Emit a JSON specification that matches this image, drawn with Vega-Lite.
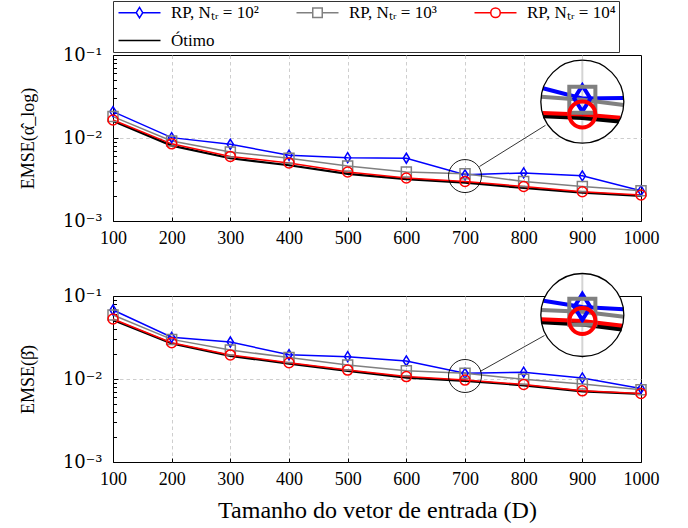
{
  "$schema": "https://vega.github.io/schema/vega-lite/v6.json",
  "background": "white",
  "padding": {"left": 18, "top": 0, "right": 5, "bottom": 4},
  "autosize": {"type": "pad"},
  "bounds": "flush",
  "spacing": 75,
  "config": {
    "view": {"stroke": "#000", "strokeWidth": 1},
    "font": "Liberation Serif",
    "axis": {
      "labelFont": "Liberation Serif", "titleFont": "Liberation Serif",
      "labelColor": "#000", "titleColor": "#000", "tickColor": "#000",
      "domain": false, "titleFontWeight": "normal",
      "gridColor": "#c8c8c8", "gridDash": [3.5, 3], "gridWidth": 0.9
    }
  },
  "datasets": {
    "alpha": [
      {"D": 100, "series": "RP, Nₜᵣ = 10²", "emse": 0.0208},
      {"D": 200, "series": "RP, Nₜᵣ = 10²", "emse": 0.0101},
      {"D": 300, "series": "RP, Nₜᵣ = 10²", "emse": 0.0084},
      {"D": 400, "series": "RP, Nₜᵣ = 10²", "emse": 0.0062},
      {"D": 500, "series": "RP, Nₜᵣ = 10²", "emse": 0.0058},
      {"D": 600, "series": "RP, Nₜᵣ = 10²", "emse": 0.0057},
      {"D": 700, "series": "RP, Nₜᵣ = 10²", "emse": 0.0036},
      {"D": 800, "series": "RP, Nₜᵣ = 10²", "emse": 0.0038},
      {"D": 900, "series": "RP, Nₜᵣ = 10²", "emse": 0.0035},
      {"D": 1000, "series": "RP, Nₜᵣ = 10²", "emse": 0.00232},
      {"D": 100, "series": "RP, Nₜᵣ = 10³", "emse": 0.0181},
      {"D": 200, "series": "RP, Nₜᵣ = 10³", "emse": 0.0092},
      {"D": 300, "series": "RP, Nₜᵣ = 10³", "emse": 0.0068},
      {"D": 400, "series": "RP, Nₜᵣ = 10³", "emse": 0.0057},
      {"D": 500, "series": "RP, Nₜᵣ = 10³", "emse": 0.0046},
      {"D": 600, "series": "RP, Nₜᵣ = 10³", "emse": 0.0039},
      {"D": 700, "series": "RP, Nₜᵣ = 10³", "emse": 0.0037},
      {"D": 800, "series": "RP, Nₜᵣ = 10³", "emse": 0.0030},
      {"D": 900, "series": "RP, Nₜᵣ = 10³", "emse": 0.0026},
      {"D": 1000, "series": "RP, Nₜᵣ = 10³", "emse": 0.00232},
      {"D": 100, "series": "RP, Nₜᵣ = 10⁴", "emse": 0.0165},
      {"D": 200, "series": "RP, Nₜᵣ = 10⁴", "emse": 0.0085},
      {"D": 300, "series": "RP, Nₜᵣ = 10⁴", "emse": 0.0060},
      {"D": 400, "series": "RP, Nₜᵣ = 10⁴", "emse": 0.0050},
      {"D": 500, "series": "RP, Nₜᵣ = 10⁴", "emse": 0.0039},
      {"D": 600, "series": "RP, Nₜᵣ = 10⁴", "emse": 0.0033},
      {"D": 700, "series": "RP, Nₜᵣ = 10⁴", "emse": 0.0030},
      {"D": 800, "series": "RP, Nₜᵣ = 10⁴", "emse": 0.0026},
      {"D": 900, "series": "RP, Nₜᵣ = 10⁴", "emse": 0.00225},
      {"D": 1000, "series": "RP, Nₜᵣ = 10⁴", "emse": 0.00206},
      {"D": 100, "series": "Ótimo", "emse": 0.0160},
      {"D": 200, "series": "Ótimo", "emse": 0.0081},
      {"D": 300, "series": "Ótimo", "emse": 0.0057},
      {"D": 400, "series": "Ótimo", "emse": 0.0047},
      {"D": 500, "series": "Ótimo", "emse": 0.0037},
      {"D": 600, "series": "Ótimo", "emse": 0.0032},
      {"D": 700, "series": "Ótimo", "emse": 0.0029},
      {"D": 800, "series": "Ótimo", "emse": 0.0025},
      {"D": 900, "series": "Ótimo", "emse": 0.0022},
      {"D": 1000, "series": "Ótimo", "emse": 0.0020}
    ],
    "beta": [
      {"D": 100, "series": "RP, Nₜᵣ = 10²", "emse": 0.0678},
      {"D": 200, "series": "RP, Nₜᵣ = 10²", "emse": 0.0318},
      {"D": 300, "series": "RP, Nₜᵣ = 10²", "emse": 0.0279},
      {"D": 400, "series": "RP, Nₜᵣ = 10²", "emse": 0.0196},
      {"D": 500, "series": "RP, Nₜᵣ = 10²", "emse": 0.0186},
      {"D": 600, "series": "RP, Nₜᵣ = 10²", "emse": 0.0165},
      {"D": 700, "series": "RP, Nₜᵣ = 10²", "emse": 0.0117},
      {"D": 800, "series": "RP, Nₜᵣ = 10²", "emse": 0.0121},
      {"D": 900, "series": "RP, Nₜᵣ = 10²", "emse": 0.0103},
      {"D": 1000, "series": "RP, Nₜᵣ = 10²", "emse": 0.0077},
      {"D": 100, "series": "RP, Nₜᵣ = 10³", "emse": 0.059},
      {"D": 200, "series": "RP, Nₜᵣ = 10³", "emse": 0.0300},
      {"D": 300, "series": "RP, Nₜᵣ = 10³", "emse": 0.0223},
      {"D": 400, "series": "RP, Nₜᵣ = 10³", "emse": 0.0181},
      {"D": 500, "series": "RP, Nₜᵣ = 10³", "emse": 0.0147},
      {"D": 600, "series": "RP, Nₜᵣ = 10³", "emse": 0.0126},
      {"D": 700, "series": "RP, Nₜᵣ = 10³", "emse": 0.0117},
      {"D": 800, "series": "RP, Nₜᵣ = 10³", "emse": 0.0099},
      {"D": 900, "series": "RP, Nₜᵣ = 10³", "emse": 0.0087},
      {"D": 1000, "series": "RP, Nₜᵣ = 10³", "emse": 0.0074},
      {"D": 100, "series": "RP, Nₜᵣ = 10⁴", "emse": 0.0528},
      {"D": 200, "series": "RP, Nₜᵣ = 10⁴", "emse": 0.0274},
      {"D": 300, "series": "RP, Nₜᵣ = 10⁴", "emse": 0.0195},
      {"D": 400, "series": "RP, Nₜᵣ = 10⁴", "emse": 0.0157},
      {"D": 500, "series": "RP, Nₜᵣ = 10⁴", "emse": 0.0128},
      {"D": 600, "series": "RP, Nₜᵣ = 10⁴", "emse": 0.0107},
      {"D": 700, "series": "RP, Nₜᵣ = 10⁴", "emse": 0.0097},
      {"D": 800, "series": "RP, Nₜᵣ = 10⁴", "emse": 0.0086},
      {"D": 900, "series": "RP, Nₜᵣ = 10⁴", "emse": 0.0072},
      {"D": 1000, "series": "RP, Nₜᵣ = 10⁴", "emse": 0.0067},
      {"D": 100, "series": "Ótimo", "emse": 0.0515},
      {"D": 200, "series": "Ótimo", "emse": 0.0268},
      {"D": 300, "series": "Ótimo", "emse": 0.0190},
      {"D": 400, "series": "Ótimo", "emse": 0.0153},
      {"D": 500, "series": "Ótimo", "emse": 0.0125},
      {"D": 600, "series": "Ótimo", "emse": 0.0104},
      {"D": 700, "series": "Ótimo", "emse": 0.0095},
      {"D": 800, "series": "Ótimo", "emse": 0.0084},
      {"D": 900, "series": "Ótimo", "emse": 0.0071},
      {"D": 1000, "series": "Ótimo", "emse": 0.0066}
    ],
    "alpha_zoom": [
      {"D": 832.9, "series": "RP, Nₜᵣ = 10²", "emse": 0.0397},
      {"D": 900, "series": "RP, Nₜᵣ = 10²", "emse": 0.0299},
      {"D": 970.4, "series": "RP, Nₜᵣ = 10²", "emse": 0.0303},
      {"D": 829.7, "series": "RP, Nₜᵣ = 10³", "emse": 0.0315},
      {"D": 900, "series": "RP, Nₜᵣ = 10³", "emse": 0.0289},
      {"D": 970.5, "series": "RP, Nₜᵣ = 10³", "emse": 0.0250},
      {"D": 832.0, "series": "RP, Nₜᵣ = 10⁴", "emse": 0.0200},
      {"D": 900, "series": "RP, Nₜᵣ = 10⁴", "emse": 0.0192},
      {"D": 964.8, "series": "RP, Nₜᵣ = 10⁴", "emse": 0.0176},
      {"D": 833.3, "series": "Ótimo", "emse": 0.0186},
      {"D": 900, "series": "Ótimo", "emse": 0.0177},
      {"D": 962.5, "series": "Ótimo", "emse": 0.0160}
    ],
    "beta_zoom": [
      {"D": 833.8, "series": "RP, Nₜᵣ = 10²", "emse": 0.0878},
      {"D": 900, "series": "RP, Nₜᵣ = 10²", "emse": 0.0737},
      {"D": 970.2, "series": "RP, Nₜᵣ = 10²", "emse": 0.0692},
      {"D": 829.9, "series": "RP, Nₜᵣ = 10³", "emse": 0.0678},
      {"D": 900, "series": "RP, Nₜᵣ = 10³", "emse": 0.0647},
      {"D": 970.8, "series": "RP, Nₜᵣ = 10³", "emse": 0.0563},
      {"D": 829.6, "series": "RP, Nₜᵣ = 10⁴", "emse": 0.0524},
      {"D": 900, "series": "RP, Nₜᵣ = 10⁴", "emse": 0.0500},
      {"D": 968.7, "series": "RP, Nₜᵣ = 10⁴", "emse": 0.0439},
      {"D": 830.4, "series": "Ótimo", "emse": 0.0490},
      {"D": 900, "series": "Ótimo", "emse": 0.0460},
      {"D": 967.1, "series": "Ótimo", "emse": 0.0400}
    ],
    "alpha_spy": [
      {"kind": "source", "D": 700, "emse": 0.00348},
      {"kind": "lens", "D": 900, "emse": 0.02737, "top": 0.0866, "bottom": 0.00866}
    ],
    "beta_spy": [
      {"kind": "source", "D": 700, "emse": 0.01087},
      {"kind": "lens", "D": 900, "emse": 0.05904, "top": 0.1867, "bottom": 0.01867}
    ],
    "alpha_link": [{"D": 724.7, "emse": 0.004535, "D2": 837.2, "emse2": 0.01422}],
    "beta_link": [{"D": 725.6, "emse": 0.01231, "D2": 835.5, "emse2": 0.03342}]
  },
  "resolve": {"scale": {"color": "shared", "shape": "shared"}, "legend": {"color": "shared"}},
  "vconcat": [
    {
      "width": 528, "height": 166,
      "resolve": {"axis": {"x": "independent", "y": "independent"}},
      "layer": [
        {
          "data": {"name": "alpha"},
          "transform": [{"filter": "datum.series === 'Ótimo'"}],
          "mark": {"type": "line", "strokeWidth": 2.2},
          "encoding": {
            "x": {"field": "D", "type": "quantitative", "scale": {"domain": [100, 1000], "nice": false},
              "axis": {"orient": "bottom", "values": [100, 200, 300, 400, 500, 600, 700, 800, 900, 1000], "format": "d", "labelFlush": false, "title": null, "labelFontSize": 18, "tickSize": -4, "labelPadding": 12, "grid": true,
                "gridOpacity": {"condition": {"test": "datum.value > 150 && datum.value < 950", "value": 1}, "value": 0}}},
            "y": {"field": "emse", "type": "quantitative", "scale": {"type": "log", "domain": [0.001, 0.1], "nice": false},
              "axis": {"orient": "left", "values": [0.001, 0.01, 0.1], "labelExpr": "datum.value < 0.005 ? '10⁻³' : datum.value < 0.05 ? '10⁻²' : '10⁻¹'", "labelFont": "DejaVu Serif", "labelFontSize": 18, "tickSize": -5, "labelPadding": 16, "grid": true,
                "gridOpacity": {"condition": {"test": "datum.value > 0.005 && datum.value < 0.05", "value": 1}, "value": 0},
                "title": "EMSE(α̂_log)", "titleFontSize": 18, "titlePadding": 25}},
            "color": {"field": "series", "type": "nominal",
              "scale": {"domain": ["RP, Nₜᵣ = 10²", "RP, Nₜᵣ = 10³", "RP, Nₜᵣ = 10⁴", "Ótimo"], "range": ["#0000ff", "#808080", "#ff0000", "#000000"]},
              "legend": {
                "orient": "none", "legendX": 0, "legendY": -54,
                "direction": "horizontal", "columns": 3, "title": null,
                "labelFont": "Liberation Serif", "labelFontSize": 17, "labelColor": "#000",
                "symbolSize": 100, "symbolStrokeWidth": 1.5, "symbolOffset": 15, "labelOffset": 23,
                "columnPadding": 34, "rowPadding": 10,
                "strokeColor": "#333", "fillColor": "white", "padding": 3,
                "encode": {
                  "symbols": {"update": {
                    "shape": {"signal": "datum.index === 0 ? 'M-4.2,0L-0.65,0M0.65,0L4.2,0M0,-1.05L0.65,0L0,1.05L-0.65,0Z' : datum.index === 1 ? 'M-4.2,0L-0.95,0M0.95,0L4.2,0M-0.95,-0.95L0.95,-0.95L0.95,0.95L-0.95,0.95Z' : datum.index === 2 ? 'M-4.2,0L-0.95,0M0.95,0L4.2,0M0.95,0A0.95,0.95,0,1,1,-0.95,0A0.95,0.95,0,1,1,0.95,0Z' : 'M-4.2,0L4.2,0'"},
                    "fill": {"value": "transparent"},
                    "strokeWidth": {"value": 1.5}
                  }}
                }
              }}
          }
        },
        {
          "data": {"name": "alpha"},
          "transform": [{"filter": "datum.series !== 'Ótimo'"}],
          "mark": {"type": "line", "strokeWidth": 1.5},
          "encoding": {
            "x": {"field": "D", "type": "quantitative", "axis": null},
            "y": {"field": "emse", "type": "quantitative",
              "axis": {"orient": "left", "values": [0.002, 0.003, 0.004, 0.005, 0.006, 0.007, 0.008, 0.009, 0.02, 0.03, 0.04, 0.05, 0.06, 0.07, 0.08, 0.09], "labels": false, "tickSize": -3.5, "grid": false, "title": null}},
            "color": {"field": "series", "type": "nominal", "legend": null}
          }
        },
        {
          "data": {"name": "alpha"},
          "transform": [{"filter": "datum.series !== 'Ótimo'"}],
          "mark": {"type": "point", "filled": false, "opacity": 1, "strokeWidth": 1.5, "size": 100},
          "encoding": {
            "x": {"field": "D", "type": "quantitative", "axis": null},
            "y": {"field": "emse", "type": "quantitative", "axis": null},
            "color": {"field": "series", "type": "nominal", "legend": null},
            "shape": {"field": "series", "type": "nominal", "legend": null,
              "scale": {"domain": ["RP, Nₜᵣ = 10²", "RP, Nₜᵣ = 10³", "RP, Nₜᵣ = 10⁴"], "range": ["M0,-1L0.62,0L0,1L-0.62,0Z", "square", "circle"]}}
          }
        },
        {
          "data": {"name": "alpha_spy"},
          "transform": [{"filter": "datum.kind === 'source'"}],
          "mark": {"type": "point", "shape": "circle", "filled": false, "opacity": 1, "stroke": "#000", "strokeWidth": 0.9, "size": 1089},
          "encoding": {
            "x": {"field": "D", "type": "quantitative", "axis": null},
            "y": {"field": "emse", "type": "quantitative", "axis": null}
          }
        },
        {
          "data": {"name": "alpha_link"},
          "mark": {"type": "rule", "stroke": "#000", "strokeWidth": 0.8},
          "encoding": {
            "x": {"field": "D", "type": "quantitative", "axis": null},
            "y": {"field": "emse", "type": "quantitative", "axis": null},
            "x2": {"field": "D2"},
            "y2": {"field": "emse2"}
          }
        },
        {
          "data": {"name": "alpha_spy"},
          "transform": [{"filter": "datum.kind === 'lens'"}],
          "mark": {"type": "point", "shape": "circle", "filled": true, "fill": "#ffffff", "opacity": 1, "strokeWidth": 0, "size": 6889},
          "encoding": {
            "x": {"field": "D", "type": "quantitative", "axis": null},
            "y": {"field": "emse", "type": "quantitative", "axis": null}
          }
        },
        {
          "data": {"name": "alpha_spy"},
          "transform": [{"filter": "datum.kind === 'lens'"}],
          "mark": {"type": "rule", "stroke": "#d4d4d4", "strokeWidth": 2},
          "encoding": {
            "x": {"field": "D", "type": "quantitative", "axis": null},
            "y": {"field": "top", "type": "quantitative", "axis": null},
            "y2": {"field": "bottom"}
          }
        },
        {
          "data": {"name": "alpha_zoom"},
          "transform": [{"filter": "datum.series === 'Ótimo'"}],
          "mark": {"type": "line", "strokeWidth": 5},
          "encoding": {
            "x": {"field": "D", "type": "quantitative", "axis": null},
            "y": {"field": "emse", "type": "quantitative", "axis": null},
            "color": {"field": "series", "type": "nominal", "legend": null}
          }
        },
        {
          "data": {"name": "alpha_zoom"},
          "transform": [{"filter": "datum.series !== 'Ótimo'"}],
          "mark": {"type": "line", "strokeWidth": 4},
          "encoding": {
            "x": {"field": "D", "type": "quantitative", "axis": null},
            "y": {"field": "emse", "type": "quantitative", "axis": null},
            "color": {"field": "series", "type": "nominal", "legend": null}
          }
        },
        {
          "data": {"name": "alpha_zoom"},
          "transform": [{"filter": "datum.series !== 'Ótimo' && datum.D === 900"}],
          "mark": {"type": "point", "filled": false, "opacity": 1, "strokeWidth": 4, "size": 680},
          "encoding": {
            "x": {"field": "D", "type": "quantitative", "axis": null},
            "y": {"field": "emse", "type": "quantitative", "axis": null},
            "color": {"field": "series", "type": "nominal", "legend": null},
            "shape": {"field": "series", "type": "nominal", "legend": null}
          }
        },
        {
          "data": {"name": "alpha_spy"},
          "transform": [{"filter": "datum.kind === 'lens'"}],
          "mark": {"type": "point", "shape": "circle", "filled": false, "opacity": 1, "stroke": "#000", "strokeWidth": 1.3, "size": 6889},
          "encoding": {
            "x": {"field": "D", "type": "quantitative", "axis": null},
            "y": {"field": "emse", "type": "quantitative", "axis": null}
          }
        }
      ]
    },
    {
      "width": 528, "height": 166,
      "resolve": {"axis": {"x": "independent", "y": "independent"}},
      "layer": [
        {
          "data": {"name": "beta"},
          "transform": [{"filter": "datum.series === 'Ótimo'"}],
          "mark": {"type": "line", "strokeWidth": 2.2},
          "encoding": {
            "x": {"field": "D", "type": "quantitative", "scale": {"domain": [100, 1000], "nice": false},
              "axis": {"orient": "bottom", "values": [100, 200, 300, 400, 500, 600, 700, 800, 900, 1000], "format": "d", "labelFlush": false, "title": "Tamanho do vetor de entrada (D)", "titleFontSize": 24, "titlePadding": 10, "labelFontSize": 18, "tickSize": -4, "labelPadding": 12, "grid": true,
                "gridOpacity": {"condition": {"test": "datum.value > 150 && datum.value < 950", "value": 1}, "value": 0}}},
            "y": {"field": "emse", "type": "quantitative", "scale": {"type": "log", "domain": [0.001, 0.1], "nice": false},
              "axis": {"orient": "left", "values": [0.001, 0.01, 0.1], "labelExpr": "datum.value < 0.005 ? '10⁻³' : datum.value < 0.05 ? '10⁻²' : '10⁻¹'", "labelFont": "DejaVu Serif", "labelFontSize": 18, "tickSize": -5, "labelPadding": 16, "grid": true,
                "gridOpacity": {"condition": {"test": "datum.value > 0.005 && datum.value < 0.05", "value": 1}, "value": 0},
                "title": "EMSE(β̂)", "titleFontSize": 18, "titlePadding": 25}},
            "color": {"field": "series", "type": "nominal"}
          }
        },
        {
          "data": {"name": "beta"},
          "transform": [{"filter": "datum.series !== 'Ótimo'"}],
          "mark": {"type": "line", "strokeWidth": 1.5},
          "encoding": {
            "x": {"field": "D", "type": "quantitative", "axis": null},
            "y": {"field": "emse", "type": "quantitative",
              "axis": {"orient": "left", "values": [0.002, 0.003, 0.004, 0.005, 0.006, 0.007, 0.008, 0.009, 0.02, 0.03, 0.04, 0.05, 0.06, 0.07, 0.08, 0.09], "labels": false, "tickSize": -3.5, "grid": false, "title": null}},
            "color": {"field": "series", "type": "nominal", "legend": null}
          }
        },
        {
          "data": {"name": "beta"},
          "transform": [{"filter": "datum.series !== 'Ótimo'"}],
          "mark": {"type": "point", "filled": false, "opacity": 1, "strokeWidth": 1.5, "size": 100},
          "encoding": {
            "x": {"field": "D", "type": "quantitative", "axis": null},
            "y": {"field": "emse", "type": "quantitative", "axis": null},
            "color": {"field": "series", "type": "nominal", "legend": null},
            "shape": {"field": "series", "type": "nominal", "legend": null}
          }
        },
        {
          "data": {"name": "beta_spy"},
          "transform": [{"filter": "datum.kind === 'source'"}],
          "mark": {"type": "point", "shape": "circle", "filled": false, "opacity": 1, "stroke": "#000", "strokeWidth": 0.9, "size": 1089},
          "encoding": {
            "x": {"field": "D", "type": "quantitative", "axis": null},
            "y": {"field": "emse", "type": "quantitative", "axis": null}
          }
        },
        {
          "data": {"name": "beta_link"},
          "mark": {"type": "rule", "stroke": "#000", "strokeWidth": 0.8},
          "encoding": {
            "x": {"field": "D", "type": "quantitative", "axis": null},
            "y": {"field": "emse", "type": "quantitative", "axis": null},
            "x2": {"field": "D2"},
            "y2": {"field": "emse2"}
          }
        },
        {
          "data": {"name": "beta_spy"},
          "transform": [{"filter": "datum.kind === 'lens'"}],
          "mark": {"type": "point", "shape": "circle", "filled": true, "fill": "#ffffff", "opacity": 1, "strokeWidth": 0, "size": 6889},
          "encoding": {
            "x": {"field": "D", "type": "quantitative", "axis": null},
            "y": {"field": "emse", "type": "quantitative", "axis": null}
          }
        },
        {
          "data": {"name": "beta_spy"},
          "transform": [{"filter": "datum.kind === 'lens'"}],
          "mark": {"type": "rule", "stroke": "#d4d4d4", "strokeWidth": 2},
          "encoding": {
            "x": {"field": "D", "type": "quantitative", "axis": null},
            "y": {"field": "top", "type": "quantitative", "axis": null},
            "y2": {"field": "bottom"}
          }
        },
        {
          "data": {"name": "beta_zoom"},
          "transform": [{"filter": "datum.series === 'Ótimo'"}],
          "mark": {"type": "line", "strokeWidth": 5},
          "encoding": {
            "x": {"field": "D", "type": "quantitative", "axis": null},
            "y": {"field": "emse", "type": "quantitative", "axis": null},
            "color": {"field": "series", "type": "nominal", "legend": null}
          }
        },
        {
          "data": {"name": "beta_zoom"},
          "transform": [{"filter": "datum.series !== 'Ótimo'"}],
          "mark": {"type": "line", "strokeWidth": 4},
          "encoding": {
            "x": {"field": "D", "type": "quantitative", "axis": null},
            "y": {"field": "emse", "type": "quantitative", "axis": null},
            "color": {"field": "series", "type": "nominal", "legend": null}
          }
        },
        {
          "data": {"name": "beta_zoom"},
          "transform": [{"filter": "datum.series !== 'Ótimo' && datum.D === 900"}],
          "mark": {"type": "point", "filled": false, "opacity": 1, "strokeWidth": 4, "size": 680},
          "encoding": {
            "x": {"field": "D", "type": "quantitative", "axis": null},
            "y": {"field": "emse", "type": "quantitative", "axis": null},
            "color": {"field": "series", "type": "nominal", "legend": null},
            "shape": {"field": "series", "type": "nominal", "legend": null}
          }
        },
        {
          "data": {"name": "beta_spy"},
          "transform": [{"filter": "datum.kind === 'lens'"}],
          "mark": {"type": "point", "shape": "circle", "filled": false, "opacity": 1, "stroke": "#000", "strokeWidth": 1.3, "size": 6889},
          "encoding": {
            "x": {"field": "D", "type": "quantitative", "axis": null},
            "y": {"field": "emse", "type": "quantitative", "axis": null}
          }
        }
      ]
    }
  ]
}
